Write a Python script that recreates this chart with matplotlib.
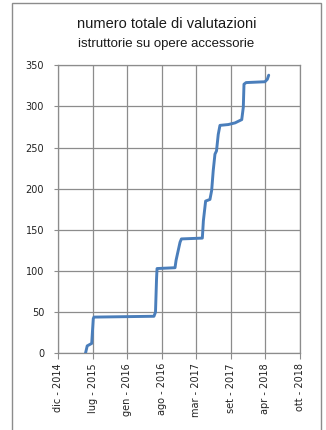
import matplotlib
matplotlib.use('Agg')
import matplotlib.pyplot as plt
from matplotlib.patches import Rectangle
import numpy as np

# dati
date = ['2015-06-04', '2015-06-14', '2015-07-10', '2015-07-19', '2015-07-23',
        '2016-07-04', '2016-07-13', '2016-07-19', '2016-07-22', '2016-11-03',
        '2016-11-09', '2016-12-02', '2016-12-10', '2017-04-10', '2017-04-16',
        '2017-04-29', '2017-05-24', '2017-06-03', '2017-06-12', '2017-06-22',
        '2017-07-01', '2017-07-11', '2017-07-21', '2017-09-07', '2017-10-16',
        '2017-11-24', '2017-12-03', '2017-12-07', '2017-12-19', '2018-04-07',
        '2018-04-21', '2018-04-29']
valutazioni = [0, 9, 12, 42, 44,
               45, 50, 90, 103, 104,
               113, 135, 139, 140, 161,
               185, 187, 198, 222, 242,
               246, 266, 277, 278, 280,
               284, 299, 327, 329, 330,
               333, 338]

asse_inizio = '2014-12-27'
asse_fine = '2018-10-27'
passo_giorni = 200
etichette_x = ['dic - 2014', 'lug - 2015', 'gen - 2016', 'ago - 2016',
               'mar - 2017', 'set - 2017', 'apr - 2018', 'ott - 2018']
titolo = 'numero totale di valutazioni'
sottotitolo = 'istruttorie su opere accessorie'

grigio = '#8c8c8c'
blu = '#4a7ebb'

plt.rcParams['font.family'] = ['DejaVu Sans']

fig = plt.figure(figsize=(3.26, 4.30), dpi=100)
ax = fig.add_axes([58/326, 1-353.3/430, 242/326, 288/430])

x = np.array(date, dtype='datetime64[D]')
ax.plot(x, valutazioni, color=blu, lw=2.1, solid_capstyle='round', zorder=3)

t0 = np.datetime64(asse_inizio)
t1 = np.datetime64(asse_fine)
ticks = np.arange(t0, t1 + np.timedelta64(1, 'D'), np.timedelta64(passo_giorni, 'D'))
ax.set_xlim(t0, t1)
ax.set_xticks(ticks)
ax.set_xticklabels(etichette_x, rotation=90, fontsize=7, color='#222222')

ax.set_ylim(0, 350)
ax.set_yticks(range(0, 351, 50))
ax.tick_params(axis='y', labelsize=7, colors='#222222', length=3, color=grigio, pad=7)
ax.tick_params(axis='x', length=4, color=grigio, pad=3)

ax.grid(True, color=grigio, lw=0.9)
for s in ax.spines.values():
    s.set_color(grigio)
    s.set_linewidth(0.9)

fig.text(167/326, 1-24/430, titolo, ha='center', va='center', fontsize=10.5,
         color='#1a1a1a', family='Liberation Sans')
fig.text(166/326, 1-44/430, sottotitolo, ha='center', va='center', fontsize=9.5,
         color='#1a1a1a', family='Liberation Sans')

# cornice esterna
fig.patches.append(Rectangle((12/326, -0.02), 309/326, 1.02 - 3/430,
                             transform=fig.transFigure, fill=False,
                             edgecolor=grigio, lw=1.0))

fig.savefig('out.png', dpi=100)
